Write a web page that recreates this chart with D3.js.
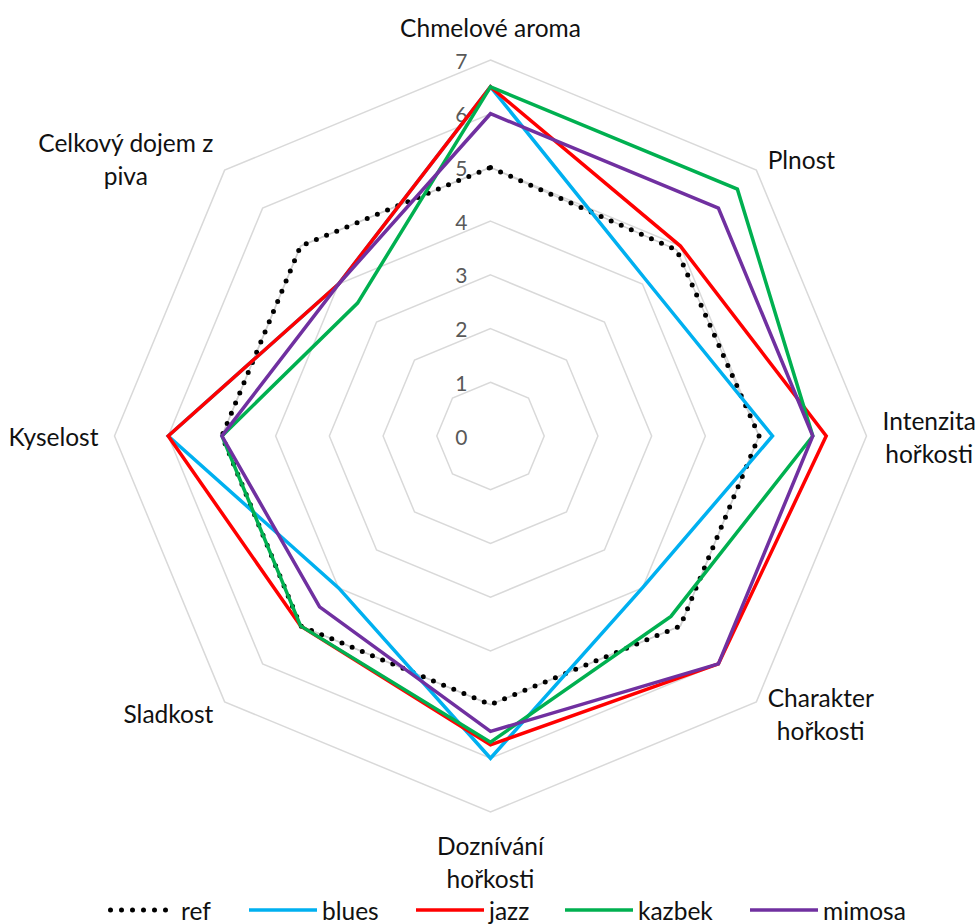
<!DOCTYPE html>
<html>
<head>
<meta charset="utf-8">
<script src="https://cdn.jsdelivr.net/npm/d3@7"></script>
<style>
  html, body { margin: 0; padding: 0; background: #fff; }
  svg { display: block; font-family: Lato, "Noto Sans", sans-serif; }
</style>
</head>
<body>
<svg id="chart" width="979" height="924"></svg>
<script>
// Sensory profile of five beers on eight attributes (scale 0–7)
const categories = [
  "Chmelové aroma",
  "Plnost",
  "Intenzita hořkosti",
  "Charakter hořkosti",
  "Doznívání hořkosti",
  "Sladkost",
  "Kyselost",
  "Celkový dojem z piva"
];
// line breaks used when printing the category names
const categoryLines = [
  ["Chmelové aroma"],
  ["Plnost"],
  ["Intenzita", "hořkosti"],
  ["Charakter", "hořkosti"],
  ["Doznívání", "hořkosti"],
  ["Sladkost"],
  ["Kyselost"],
  ["Celkový dojem z", "piva"]
];
const seriesNames = ["ref", "blues", "jazz", "kazbek", "mimosa"];
const ref    = [5,   4.9, 5,    5,    5,    5,   5, 5];
const blues  = [6.5, 4.1, 5.25, 4,    6,    4,   6, 4];
const jazz   = [6.5, 5,   6.25, 6,    5.75, 5,   6, 4];
const kazbek = [6.5, 6.5, 6,    4.75, 5.7,  5,   5, 3.5];
const mimosa = [6,   6,   6,    6,    5.5,  4.5, 5, 4];
const tickValues = [0, 1, 2, 3, 4, 5, 6, 7];

const seriesValues = [ref, blues, jazz, kazbek, mimosa];
const colors = ["#000000", "#00B0F0", "#FF0000", "#00B050", "#7030A0"];

const svg = d3.select("#chart");
const cx = 490.5, cy = 436;
const R = 376;

const r = d3.scaleLinear().domain([0, 7]).range([0, R]);
const angle = d3.scaleLinear().domain([0, categories.length]).range([0, 2 * Math.PI]);

const pt = (i, v) => {
  const a = angle(i);
  return [cx + r(v) * Math.sin(a), cy - r(v) * Math.cos(a)];
};

// grid octagons
const grid = svg.append("g");
tickValues.filter(t => t > 0).forEach(t => {
  grid.append("path")
    .attr("d", d3.line()(categories.map((c, i) => pt(i, t))) + "Z")
    .attr("fill", "none")
    .attr("stroke", "#d9d9d9")
    .attr("stroke-width", 1.5);
});

// tick labels along the top spoke
svg.append("g").selectAll("text")
  .data(tickValues)
  .join("text")
  .attr("x", cx - 23)
  .attr("y", d => cy - r(d))
  .attr("text-anchor", "end")
  .attr("dominant-baseline", "central")
  .attr("font-size", 21)
  .attr("fill", "#595959")
  .text(d => d);

// series
const line = d3.line().curve(d3.curveLinearClosed);
const plot = svg.append("g");
seriesValues.forEach((vals, k) => {
  const pts = vals.map((v, i) => pt(i, v));
  if (k === 0) {
    plot.append("path")
      .attr("d", line(pts))
      .attr("fill", "none")
      .attr("stroke", "#d0d0d0")
      .attr("stroke-width", 1.5);
    plot.append("path")
      .attr("d", line(pts))
      .attr("fill", "none")
      .attr("stroke", colors[k])
      .attr("stroke-width", 5)
      .attr("stroke-linecap", "round")
      .attr("stroke-dasharray", "0 11");
  } else {
    plot.append("path")
      .attr("d", line(pts))
      .attr("fill", "none")
      .attr("stroke", colors[k])
      .attr("stroke-width", 3.5)
      .attr("stroke-linejoin", "miter");
  }
});

// category labels: each label is a block of centred lines placed just
// outside the outer ring
const labelR = R + 16;
const lineH = 33;
const fontSize = 24.5;
const labels = svg.append("g").attr("font-size", fontSize).attr("fill", "#111");
categoryLines.forEach((ls, i) => {
  const a = angle(i);
  const s = Math.sin(a), c = Math.cos(a);
  const x = cx + labelR * s, y = cy - labelR * c;
  const t = labels.append("text")
    .attr("text-anchor", "middle")
    .attr("dominant-baseline", "central");
  const spans = ls.map(l => t.append("tspan").text(l));
  const w = d3.max(spans, sp => sp.node().getComputedTextLength());
  let midX;
  if (s > 0.3) midX = x + w / 2;
  else if (s < -0.3) midX = x - w / 2;
  else midX = x;
  let firstY;
  if (c > 0.9) firstY = y - (ls.length - 1) * lineH - 17;
  else if (c < -0.9) firstY = y + 17;
  else firstY = y - (ls.length - 1) * lineH / 2;
  spans.forEach((sp, j) => sp.attr("x", midX).attr("y", firstY + j * lineH));
});

// legend
const legend = svg.append("g").attr("font-size", fontSize).attr("fill", "#111");
const legendY = 910;
const itemX = [108, 249, 416, 565, 750];
seriesNames.forEach((n, k) => {
  const g = legend.append("g").attr("transform", `translate(${itemX[k]},${legendY})`);
  if (k === 0) {
    g.append("line").attr("x1", 2.5).attr("x2", 68).attr("y1", 0).attr("y2", 0)
      .attr("stroke", colors[k]).attr("stroke-width", 5)
      .attr("stroke-linecap", "round").attr("stroke-dasharray", "0 11");
  } else {
    g.append("line").attr("x1", 0).attr("x2", 68).attr("y1", 0).attr("y2", 0)
      .attr("stroke", colors[k]).attr("stroke-width", 3.5);
  }
  g.append("text").attr("x", 73).attr("y", 0)
    .attr("dominant-baseline", "central").text(n);
});
</script>
</body>
</html>
